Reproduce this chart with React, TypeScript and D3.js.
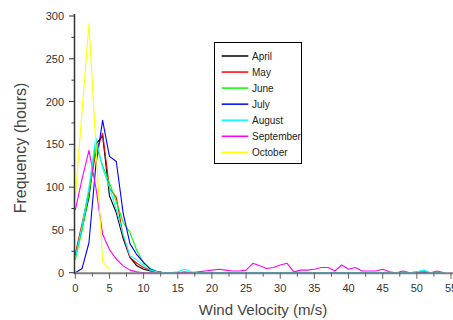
import React from "react";
import * as d3 from "d3";

const velocity = d3.range(0, 55);
const velocityOct = [0, 1, 2, 3, 4, 5];

const months = ["April", "May", "June", "July", "August", "September", "October"];
const colors = ["#000000", "#ff0000", "#00ff00", "#0000ff", "#00ffff", "#ff00ff", "#ffff00"];

const zeros = (n: number) => Array(n).fill(0);

const april = [20, 52, 88, 150, 160, 90, 70, 40, 18, 8, 4, 2, 1, ...zeros(42)];
const may = [22, 58, 95, 140, 163, 99, 88, 43, 18, 11, 6, 3, 1, ...zeros(42)];
const june = [15, 50, 92, 150, 125, 105, 83, 59, 47, 26, 11, 5, 1, ...zeros(42)];
const july = [0, 5, 35, 125, 178, 136, 130, 70, 34, 21, 12, 4, 1, ...zeros(42)];
const august = [18, 55, 100, 158, 122, 100, 74, 45, 20, 15, 8, 3, 1, 0, 0, 1, 4, 1, 0, 0, 0, 0, 0, 0, 0, 0, 0, 0, 0, 0, 0, 0, 0, 0, 0, 0, 0, 0, 0, 0, 0, 0, 0, 0, 0, 0, 0, 0, 0, 0, 1, 3, 0, 0, 0];
const september = [73, 110, 143, 100, 45, 27, 16, 8, 3, 1, 0, 0, 0, 0, 0, 0, 1, 0, 1, 2, 3, 4, 3, 2, 2, 3, 11, 8, 5, 6, 9, 11, 1, 3, 3, 4, 6, 6, 2, 9, 4, 6, 2, 2, 2, 4, 1, 0, 2, 0, 1, 2, 0, 2, 0];
const october = [88, 190, 291, 150, 13, 4];

const seriesValues = [april, may, june, july, august, september, october];

const xTicks = d3.range(0, 56, 5);
const xMinor = d3.range(2.5, 55, 5);
const yTicks = d3.range(0, 301, 50);
const yMinor = d3.range(25, 300, 50);

const W = 453;
const H = 320;
const font = "'Liberation Sans', Arial, sans-serif";

export default function App() {
  const x = d3.scaleLinear().domain([0, 55]).range([75.3, 451]);
  const y = d3.scaleLinear().domain([0, 300]).range([272.7, 16]);
  const line = d3
    .line<[number, number]>()
    .x((d) => x(d[0]))
    .y((d) => y(d[1]));

  const drawOrder = [0, 1, 2, 3, 5, 4, 6];

  return (
    <svg
      width={W}
      height={H}
      style={{ position: "absolute", left: 0, top: 0, background: "#fff" }}
      fontFamily={font}
    >
      <rect x={0} y={0} width={W} height={H} fill="#fff" />
      {/* series */}
      {drawOrder.map((i) => {
        const vals = seriesValues[i];
        const xs = i === 6 ? velocityOct : velocity;
        const pts = vals.map((v, k) => [xs[k], v] as [number, number]);
        return (
          <path
            key={months[i]}
            d={line(pts) || ""}
            fill="none"
            stroke={colors[i]}
            strokeWidth={1.1}
            strokeLinejoin="round"
          />
        );
      })}
      {/* x axis */}
      <line x1={x(0) - 1} x2={W} y1={y(0) + 0.5} y2={y(0) + 0.5} stroke="#808080" strokeWidth={2} />
      {xTicks.map((t) => (
        <g key={"xt" + t}>
          <line x1={x(t)} x2={x(t)} y1={y(0)} y2={y(0) + 6} stroke="#606060" strokeWidth={1} />
          <text x={x(t)} y={292} textAnchor="middle" fontSize={11} fill="#333">
            {t}
          </text>
        </g>
      ))}
      {xMinor.map((t) => (
        <line key={"xm" + t} x1={x(t)} x2={x(t)} y1={y(0)} y2={y(0) + 4} stroke="#606060" strokeWidth={1} />
      ))}
      {/* y axis */}
      <line x1={74.5} x2={74.5} y1={14} y2={y(0) + 1} stroke="#333" strokeWidth={1.5} />
      {yTicks.map((t) => (
        <g key={"yt" + t}>
          <line x1={69} x2={74.5} y1={y(t)} y2={y(t)} stroke="#333" strokeWidth={1} />
          <text x={64} y={y(t) + 4} textAnchor="end" fontSize={11} fill="#333">
            {t}
          </text>
        </g>
      ))}
      {yMinor.map((t) => (
        <line key={"ym" + t} x1={71.5} x2={74.5} y1={y(t)} y2={y(t)} stroke="#333" strokeWidth={1} />
      ))}
      {/* axis titles */}
      <text x={263} y={315} textAnchor="middle" fontSize={15} fill="#444">
        Wind Velocity (m/s)
      </text>
      <text
        transform={`translate(26,148) rotate(-90)`}
        textAnchor="middle"
        fontSize={16}
        fill="#444"
      >
        Frequency (hours)
      </text>
      {/* legend */}
      <rect x={214.5} y={42.5} width={87} height={121} fill="#fff" stroke="#000" strokeWidth={1} />
      {months.map((m, i) => {
        const ly = 56 + i * 16.05;
        return (
          <g key={"lg" + m}>
            <line x1={221.7} x2={248.3} y1={ly} y2={ly} stroke={colors[i]} strokeWidth={1.5} />
            <text x={252} y={ly + 3.5} fontSize={10} fill="#222">
              {m}
            </text>
          </g>
        );
      })}
    </svg>
  );
}
